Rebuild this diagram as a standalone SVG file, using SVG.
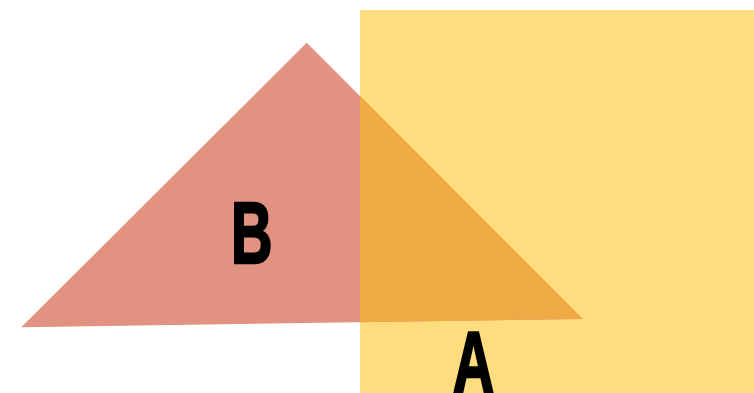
<svg xmlns="http://www.w3.org/2000/svg" width="754" height="393" viewBox="0 0 754 393">
<style>
.lbl{font-family:"Liberation Sans",Arial,sans-serif;font-weight:bold;font-size:87px;fill:#000;stroke:#000;stroke-width:2.5;stroke-linejoin:round;text-anchor:middle}
</style>
<rect width="754" height="393" fill="#fff"/>
<g id="A">
<rect x="360" y="10" width="394" height="383" fill="#FDDD7D"/>
<text class="lbl" transform="translate(473.5,391.5) scale(0.66,1)" x="0" y="0">A</text>
</g>
<g id="B">
<polygon points="306.7,42.7 21.3,327.3 582.7,319" fill="#E19281"/>
<polygon points="360,96.1 582.7,319 360,322.3" fill="#EFAA45"/>
<text class="lbl" transform="translate(251.7,262.5) scale(0.66,1)" x="0" y="0">B</text>
</g>
</svg>
